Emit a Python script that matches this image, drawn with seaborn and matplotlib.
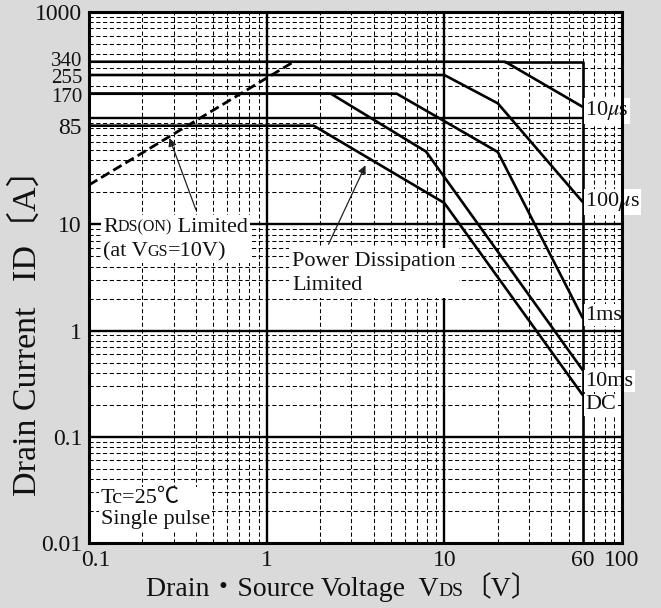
import numpy as np
import pandas as pd
import matplotlib
matplotlib.use("Agg")
import matplotlib.pyplot as plt
import matplotlib.transforms as mtransforms
import seaborn as sns
from matplotlib.offsetbox import TextArea, HPacker, VPacker, AnnotationBbox, AnchoredOffsetbox

# ---------------- data ----------------
v_10us = [0.1, 22, 60]
i_10us = [340, 340, 128]
v_100us = [0.1, 10, 20, 60]
i_100us = [255, 255, 138, 16.3]
v_1ms = [0.1, 5.4, 20, 60]
i_1ms = [170, 170, 48, 1.32]
v_10ms = [0.1, 2.3, 7.9, 60]
i_10ms = [170, 170, 48.4, 0.426]
v_dc = [0.1, 1.84, 10, 60]
i_dc = [85, 85, 15.9, 0.248]
v_limit = [22, 60, 60]
i_limit = [340, 340, 0.01]
v_rds = [0.1, 1.42]
i_rds = [23.5, 340]

curve_labels = ["10$\\mu$s", "100$\\mu$s", "1ms", "10ms", "DC"]
curve_label_i = [117, 16.3, 1.40, 0.335, 0.200]

xtick_vals = [0.1, 1, 10, 60, 100]
xtick_labels = ["0.1", "1", "10", "60", "100"]
ytick_vals = [0.01, 0.1, 1, 10, 85, 170, 255, 340, 1000]
ytick_labels = ["0.01", "0.1", "1", "10", "85", "170", "255", "340", "1000"]

# ---------------- style ----------------
sns.set_style("white")
FAM = ["Liberation Serif", "Noto Sans CJK JP", "DejaVu Sans"]
plt.rcParams["font.family"] = FAM
plt.rcParams["mathtext.fontset"] = "stix"

fig = plt.figure(figsize=(6.61, 6.08), dpi=100, facecolor="#dadada")
ax = fig.add_axes([0.1346, 0.1069, 0.8064, 0.8734])
ax.set_facecolor("white")
ax.set_xscale("log")
ax.set_yscale("log")
ax.set_xlim(0.1, 100)
ax.set_ylim(0.01, 1000)

# grid: heavy decade lines, dashed minor lines
for d in [0.1, 1, 10]:
    for m in range(2, 10):
        ax.axvline(d * m, color="black", lw=0.75, ls=(0, (4, 2.5)), zorder=1)
for d in [1, 10]:
    ax.axvline(d, color="black", lw=1.7, zorder=1.5)
for d in [0.01, 0.1, 1, 10, 100]:
    for m in range(2, 10):
        ax.axhline(d * m, color="black", lw=0.75, ls=(0, (4, 2.5)), zorder=1)
for d in [0.1, 1, 10, 100]:
    ax.axhline(d, color="black", lw=1.7, zorder=1.5)

# curves
series = [(v_10us, i_10us), (v_100us, i_100us), (v_1ms, i_1ms),
          (v_10ms, i_10ms), (v_dc, i_dc), (v_limit, i_limit)]
for v, i in series:
    df = pd.DataFrame({"V": v, "I": i})
    sns.lineplot(data=df, x="V", y="I", ax=ax, color="black", lw=1.9,
                 estimator=None, sort=False, zorder=3)
df_rds = pd.DataFrame({"V": v_rds, "I": i_rds})
sns.lineplot(data=df_rds, x="V", y="I", ax=ax, color="black", lw=2.0,
             ls=(0, (3.5, 1.6)), estimator=None, sort=False, zorder=3)

# curve labels
for lab, yi in zip(curve_labels, curve_label_i):
    ax.text(62, yi, lab, ha="left", va="center", fontsize=16, color="#111111",
            bbox=dict(fc="white", ec="none", pad=1.2), zorder=6)

# ticks
ax.set_xticks(xtick_vals, xtick_labels)
ax.set_yticks(ytick_vals, ytick_labels)
ax.minorticks_off()
ax.tick_params(length=0, pad=5, labelsize=17, colors="#111111")
for lbl in ax.get_xticklabels():
    if lbl.get_text() == "0.1":
        lbl.set_transform(lbl.get_transform() +
                          mtransforms.ScaledTranslation(0.07, 0, fig.dpi_scale_trans))
# the three crowded labels near the top are a little smaller and nudged apart
nudges = {"340": 0.03, "255": -0.01, "170": -0.01}
for lbl in ax.get_yticklabels():
    t = lbl.get_text()
    if t in nudges:
        lbl.set_fontsize(15)
        lbl.set_transform(lbl.get_transform() +
                          mtransforms.ScaledTranslation(0, nudges[t], fig.dpi_scale_trans))

for s in ax.spines.values():
    s.set_linewidth(2.2)
    s.set_color("black")
    s.set_zorder(7)

ax.set_xlabel("")
ax.set_ylabel("Drain Current   ID〔A〕", fontsize=24.5, color="#111111")
ax.yaxis.label.set_verticalalignment("center")
ax.yaxis.set_label_coords(-0.118, 0.412)

# x label with small-caps style subscript
def ta(s, size):
    return TextArea(s, textprops=dict(size=size, family=FAM, color="#111111"))

xl = HPacker(children=[ta("Drain・Source Voltage  V", 20), ta("DS", 14), ta("〔V〕", 20)],
             align="baseline", pad=0, sep=0)
ax.add_artist(AnchoredOffsetbox(loc="center", child=xl, pad=0, borderpad=0, frameon=False,
                                bbox_to_anchor=(0.475, -0.086), bbox_transform=ax.transAxes))

# RDS(ON) annotation
l1 = HPacker(children=[ta("R", 16), ta("DS(ON)", 11.5), ta(" Limited", 16)], align="baseline", pad=0, sep=0)
l2 = HPacker(children=[ta("(at V", 16), ta("GS", 11.5), ta("=10V)", 16)], align="baseline", pad=0, sep=0)
rbox = VPacker(children=[l1, l2], align="left", pad=0, sep=4)
ab = AnnotationBbox(rbox, (0.12, 11.6), xycoords="data", box_alignment=(0, 1), frameon=True,
                    pad=0.15, bboxprops=dict(fc="white", ec="none"), zorder=6)
ax.add_artist(ab)
ax.annotate("", xy=(0.284, 65), xytext=(0.40, 13.7), xycoords="data",
            arrowprops=dict(arrowstyle="-|>", lw=0.9, color="#222222", mutation_scale=12,
                            shrinkA=0, shrinkB=0), zorder=6)

# Power dissipation annotation
ax.text(1.39, 5.5, "Power Dissipation\nLimited", ha="left", va="top", fontsize=16,
        linespacing=1.35, color="#111111",
        bbox=dict(fc="white", ec="none", pad=2.5), zorder=6)
ax.annotate("", xy=(3.6, 36), xytext=(2.23, 6.5), xycoords="data",
            arrowprops=dict(arrowstyle="-|>", lw=0.9, color="#222222", mutation_scale=12,
                            shrinkA=0, shrinkB=0), zorder=6)

# conditions
ax.text(0.1167, 0.0135, "Tc=25℃\nSingle pulse", ha="left", va="bottom", fontsize=16,
        linespacing=1.15, color="#111111",
        bbox=dict(fc="white", ec="none", pad=1.5), zorder=6)

fig.savefig("out.png", dpi=100, facecolor=fig.get_facecolor())
